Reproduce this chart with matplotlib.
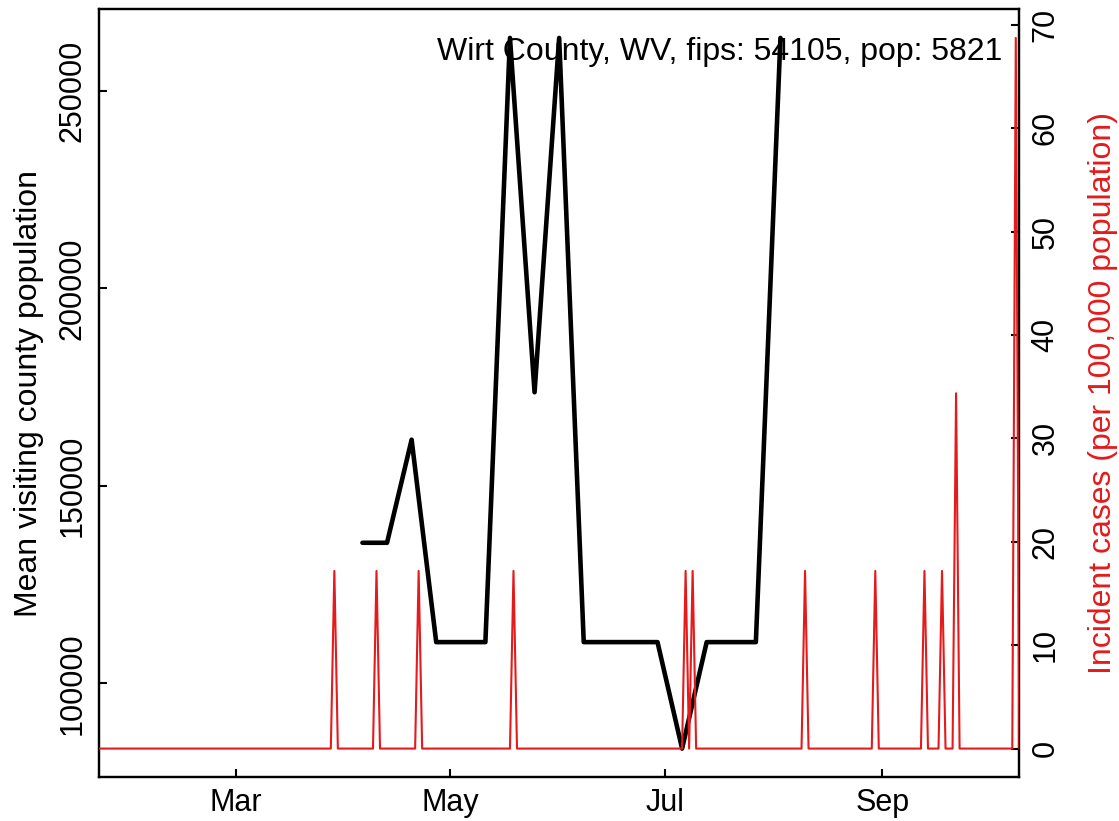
import matplotlib
matplotlib.use("Agg")
import matplotlib.pyplot as plt
import numpy as np
import pandas as pd

plt.rcParams['font.family'] = ['Liberation Sans', 'DejaVu Sans']

# ---- data ----
title_text = "Wirt County, WV, fips: 54105, pop: 5821"

# weekly mean visiting county population (left axis)
visit_dates = ["2020-04-06", "2020-04-13", "2020-04-20", "2020-04-27", "2020-05-04",
               "2020-05-11", "2020-05-18", "2020-05-25", "2020-06-01", "2020-06-08",
               "2020-06-15", "2020-06-22", "2020-06-29", "2020-07-06", "2020-07-13",
               "2020-07-20", "2020-07-27", "2020-08-03"]
visit_pop = [135600, 135600, 161700, 110450, 110450,
             110450, 263400, 173700, 263400, 110450,
             110450, 110450, 110450, 83500, 110450,
             110450, 110450, 263400]

# daily incident cases per 100,000 (right axis); zero on all other days
case_start = "2020-01-22"
case_end = "2020-10-10"
case_spike_dates = ["2020-03-29", "2020-04-10", "2020-04-22", "2020-05-19", "2020-07-07",
                    "2020-07-09", "2020-08-10", "2020-08-30", "2020-09-13", "2020-09-18",
                    "2020-09-22", "2020-10-09"]
case_spike_values = [17.18, 17.18, 17.18, 17.18, 17.18,
                     17.18, 17.18, 17.18, 17.18, 17.18,
                     34.36, 68.72]

x_tick_dates = ["2020-03-01", "2020-05-01", "2020-07-01", "2020-09-01"]
x_tick_labels = ["Mar", "May", "Jul", "Sep"]
left_ticks = [100000, 150000, 200000, 250000]
right_ticks = [0, 10, 20, 30, 40, 50, 60, 70]

# ---- build series ----
vd = pd.to_datetime(visit_dates)
vp = np.array(visit_pop, dtype=float)

days = pd.date_range(case_start, case_end, freq="D")
cases = pd.Series(0.0, index=days)
for d, v in zip(case_spike_dates, case_spike_values):
    cases[pd.Timestamp(d)] = v

RED = "#E41A1C"
FS_TICK = 22
FS_LAB = 23

fig = plt.figure(figsize=(11.19, 8.21), dpi=100)
ax = fig.add_axes([99/1119, 1 - 777/821, (1019.3 - 99)/1119, (777 - 9.5)/821])

ax.plot(vd, vp, color="black", lw=3.3, solid_joinstyle="round",
        solid_capstyle="round", zorder=2)
lo, hi = vp.min(), vp.max()
r = hi - lo
ax.set_ylim(lo - 0.04 * r, hi + 0.04 * r)
ax.set_xlim(pd.Timestamp(case_start), pd.Timestamp(case_end))
ax.set_yticks(left_ticks)
ax.set_yticklabels([str(t) for t in left_ticks], rotation=90, va="center")
ax.set_xticks(pd.to_datetime(x_tick_dates))
ax.set_xticklabels(x_tick_labels)
ax.set_ylabel("Mean visiting county population", fontsize=FS_LAB, labelpad=10)

ax2 = ax.twinx()
ax2.plot(cases.index, cases.values, color=RED, lw=1.5, zorder=3)
cmax = cases.values.max()
ax2.set_ylim(-0.04 * cmax, cmax * 1.04)
ax2.set_yticks(right_ticks)
ax2.set_yticklabels([str(t) for t in right_ticks], rotation=90, va="center")
ax2.set_ylabel("Incident cases (per 100,000 population)", fontsize=FS_LAB, color=RED,
               labelpad=20)
ax2.set_xlim(pd.Timestamp(case_start), pd.Timestamp(case_end))

for a in (ax, ax2):
    for s in a.spines.values():
        s.set_linewidth(1.6)
        s.set_color("black")
    a.tick_params(direction="in", length=5.5, width=1.5, labelsize=FS_TICK, pad=8)

ax.tick_params(axis="x", pad=8)

fig.text(1002/1119, 1 - 60/821, title_text, ha="right", va="baseline", fontsize=FS_LAB)

fig.savefig("out.png", dpi=100)
